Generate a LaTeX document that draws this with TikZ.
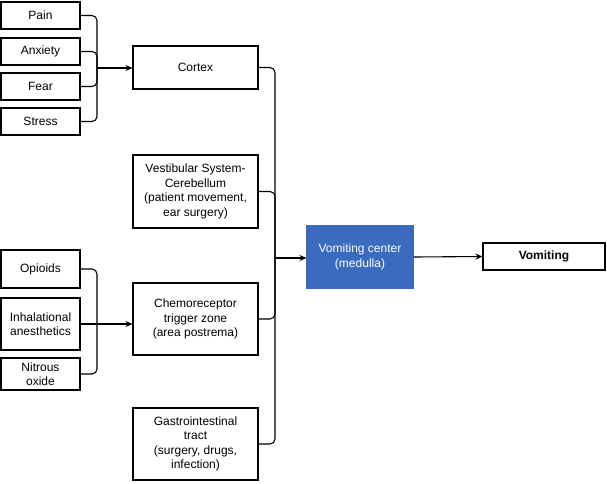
\documentclass[tikz,border=0pt]{standalone}
\usepackage{fontspec}
\setmainfont{Liberation Sans}
\usetikzlibrary{arrows.meta}
\begin{document}
\begin{tikzpicture}[x=1pt,y=-1pt,
  box/.style={draw,line width=1.1pt,align=center,font=\fontsize{12}{14.5}\selectfont,inner sep=0pt},
  conn/.style={line width=1.1pt,rounded corners=5pt},
  arr/.style={line width=1.1pt,-{Stealth[length=7pt,width=6pt]}}]
\useasboundingbox (0,0) rectangle (607,483);
\definecolor{vblue}{HTML}{3B6BBF}
\def\bx#1#2#3#4#5#6{\node[box,minimum width=#4-#2,minimum height=#5-#3] (#1) at ({(#2+#4)/2},{(#3+#5)/2}) {#6};}
\bx{pain}{1}{2}{80}{29}{Pain}
\bx{anx}{1}{38}{80}{65}{Anxiety}
\bx{fear}{1}{73}{80}{100}{Fear}
\bx{stress}{1}{108}{80}{135}{Stress}
\bx{cortex}{133}{46}{258}{89}{Cortex}
\bx{vest}{133}{155}{258}{228}{Vestibular System-\\Cerebellum\\(patient movement,\\ear surgery)}
\bx{chemo}{133}{283}{258}{355}{Chemoreceptor\\trigger zone\\(area postrema)}
\bx{gi}{133}{408}{258}{480}{Gastrointestinal\\tract\\(surgery, drugs,\\infection)}
\bx{opi}{1}{250}{80}{288}{Opioids}
\bx{inh}{1}{298}{80}{350}{Inhalational\\anesthetics}
\bx{nit}{1}{358}{80}{390}{Nitrous\\oxide}
\node[box,draw=vblue,fill=vblue,text=white,minimum width=106,minimum height=62] (vc) at (360,257) {Vomiting center\\(medulla)};
\node[box,font=\fontsize{12}{14.5}\selectfont\bfseries,minimum width=122,minimum height=27] (vom) at (544,256.5) {Vomiting};
\coordinate (j1) at (97,68);
\coordinate (j2) at (97,324);
\coordinate (j3) at (275,258);
\draw[conn] (pain.east) -| (j1) |- (stress.east);
\draw[conn] (anx.east) -| (j1) |- (fear.east);
\draw[arr] (j1) -- (j1 -| cortex.west);
\draw[conn] (opi.east) -| (j2) |- (nit.east);
\draw[conn] (inh.east) -- (j2);
\draw[arr] (j2) -- (j2 -| chemo.west);
\draw[conn] (cortex.east) -| (j3) |- (gi.east);
\draw[conn] (vest.east) -| (j3);
\draw[conn] (chemo.east) -| (j3);
\draw[arr] (j3) -- (j3 -| vc.west);
\draw[arr] (vc.east) -- (vom.west);
\end{tikzpicture}
\end{document}
